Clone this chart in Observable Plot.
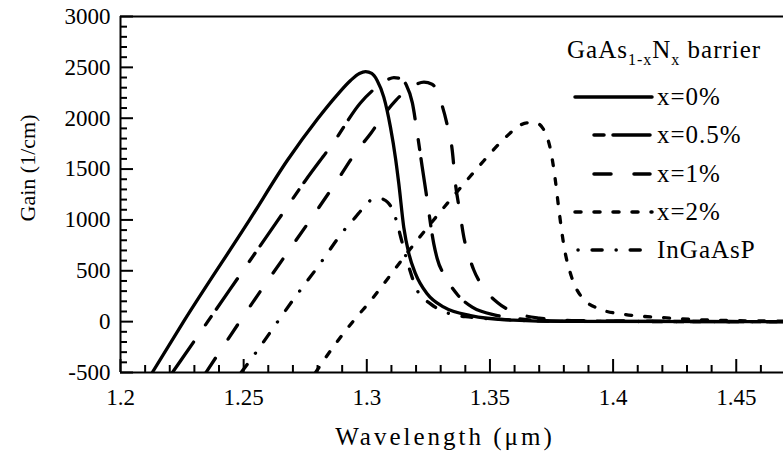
<!DOCTYPE html>
<html><head><meta charset="utf-8">
<script src="https://cdn.jsdelivr.net/npm/d3@7"></script>
<script src="https://cdn.jsdelivr.net/npm/@observablehq/plot@0.6"></script>
<style>
body{margin:0;background:#fff;}
#chart{width:783px;height:457px;}
</style>
</head><body><div id="chart"></div>
<script>
// ---- data (wavelength in µm, gain in 1/cm) ----
const seriesNames = ["x=0%", "x=0.5%", "x=1%", "x=2%", "InGaAsP"];

const wl_x0 = [1.2129,1.2256,1.2524,1.2677,1.2799,1.2880,1.2934,1.2970,1.2995,1.3020,1.3042,1.3069,1.3096,1.3117,1.3130,1.3150,1.3171,1.3198,1.3245,1.3313,1.3421,1.3596,1.38,1.47];
const g_x0  = [-500,0,1000,1584,1990,2230,2371,2440,2459,2440,2371,2207,1912,1600,1355,929,667,470,274,142,60,15,3,0];

const wl_x05 = [1.2211,1.2354,1.2640,1.2751,1.2870,1.2974,1.3042,1.3085,1.3110,1.3135,1.3160,1.3185,1.3205,1.3225,1.3240,1.3272,1.3286,1.3320,1.3370,1.3428,1.3530,1.365,1.38,1.47];
const g_x05  = [-500,0,1000,1388,1780,2150,2310,2380,2400,2390,2330,2150,1850,1520,1280,765,618,437,260,142,60,20,5,0];

const wl_x1 = [1.2347,1.2487,1.2880,1.2961,1.3015,1.3062,1.3117,1.3184,1.3232,1.3265,1.3299,1.3325,1.3347,1.3360,1.3377,1.3394,1.3414,1.3434,1.3475,1.3529,1.3597,1.37,1.385,1.47];
const g_x1  = [-500,11,1388,1683,1847,2010,2174,2310,2354,2335,2174,1950,1683,1355,1090,830,650,510,330,191,93,35,10,0];

const wl_x2 = [1.2792,1.2839,1.2947,1.3022,1.3069,1.3177,1.3286,1.3394,1.3476,1.3550,1.3600,1.3650,1.3690,1.3720,1.3745,1.3765,1.3780,1.3800,1.3830,1.3870,1.3950,1.405,1.42,1.44,1.47];
const g_x2  = [-500,-333,11,224,372,716,1043,1355,1584,1780,1890,1955,1950,1880,1700,1400,1100,750,450,250,120,70,40,15,5];

const wl_inp = [1.2490,1.2541,1.2704,1.2805,1.2907,1.2954,1.2990,1.3028,1.3055,1.3076,1.3090,1.3110,1.3125,1.3140,1.3171,1.3205,1.3259,1.3347,1.3421,1.36,1.38,1.47];
const g_inp  = [-500,-333,224,552,896,1027,1130,1208,1210,1191,1160,1070,950,810,535,306,175,70,44,15,3,0];

const xMajor = [1.2,1.25,1.3,1.35,1.4,1.45];
const xMinor = [1.21,1.22,1.23,1.24,1.26,1.27,1.28,1.29,1.31,1.32,1.33,1.34,1.36,1.37,1.38,1.39,1.41,1.42,1.43,1.44,1.46];
const yMajor = [-500,0,500,1000,1500,2000,2500,3000];
const yMinor = [-400,-300,-200,-100,100,200,300,400,600,700,800,900,1100,1200,1300,1400,1600,1700,1800,1900,2100,2200,2300,2400,2600,2700,2800,2900];

// ---- styles ----
const dashes = {"x=0%": null, "x=0.5%": "37,21,10,9", "x=1%": "17,23", "x=2%": "6,13", "InGaAsP": "10,14,0.1,14"};
const seriesData = [[wl_x0,g_x0],[wl_x05,g_x05],[wl_x1,g_x1],[wl_x2,g_x2],[wl_inp,g_inp]];
const rows = seriesNames.map((name,i) => seriesData[i][0].map((w,j) => ({series:name, wl:w, gain:seriesData[i][1][j]})));

const W = 783, H = 457, mL = 120, mR = 0, mT = 16, mB = 85;
const plotW = W - mL - mR, plotH = H - mT - mB;
const font = "Liberation Serif, DejaVu Serif, serif";

const chart = Plot.plot({
  width: W, height: H,
  marginLeft: mL, marginRight: mR, marginTop: mT, marginBottom: mB,
  x: {domain: [1.2, 1.2 + plotW / 2463]},
  y: {domain: [-500, 3000]},
  style: {fontFamily: font, fontSize: "23px", color: "#000", background: "#fff", overflow: "visible"},
  marks: [
    ...rows.map(r => Plot.line(r, {x: "wl", y: "gain", stroke: "#000", strokeWidth: 3.3,
      strokeDasharray: dashes[r[0].series], strokeLinecap: "round", strokeLinejoin: "round",
      curve: "monotone-x", clip: true})),
    Plot.ruleX(xMajor, {stroke: "#000", strokeWidth: 2, insetTop: plotH - 13}),
    Plot.ruleX(xMinor, {stroke: "#000", strokeWidth: 2, insetTop: plotH - 7}),
    Plot.ruleY(yMajor, {stroke: "#000", strokeWidth: 2, insetRight: plotW - 13}),
    Plot.ruleY(yMinor, {stroke: "#000", strokeWidth: 2, insetRight: plotW - 7}),
    Plot.ruleX([1.2], {stroke: "#000", strokeWidth: 2}),
    Plot.ruleY([-500, 3000], {stroke: "#000", strokeWidth: 2}),
    Plot.axisX(xMajor, {tickSize: 0, tickPadding: 16, tickFormat: d => String(d), label: null, fontSize: 23, fontFamily: font}),
    Plot.axisY(yMajor, {tickSize: 0, tickPadding: 10, tickFormat: d => String(d), label: null, fontSize: 23, fontFamily: font})
  ]
});
document.getElementById("chart").appendChild(chart);

// ---- titles and legend ----
const svg = d3.select(chart);
svg.append("text").attr("x", 445).attr("y", 445).attr("text-anchor", "middle")
  .attr("font-family", font).attr("font-size", 25).attr("letter-spacing", 3).attr("fill", "#000")
  .text("Wavelength (μm)");
svg.append("text").attr("transform", "translate(35,168) rotate(-90)").attr("text-anchor", "middle")
  .attr("font-family", font).attr("font-size", 22).attr("fill", "#000")
  .text("Gain (1/cm)");

const lg = svg.append("g").attr("font-family", font).attr("fill", "#000").attr("text-anchor", "start");
const title = lg.append("text").attr("x", 567).attr("y", 58).attr("font-size", 25).attr("letter-spacing", 1);
title.append("tspan").text("GaAs");
title.append("tspan").attr("font-size", 16).attr("dy", 7).text("1-x");
title.append("tspan").attr("dy", -7).text("N");
title.append("tspan").attr("font-size", 16).attr("dy", 7).text("x");
title.append("tspan").attr("dy", -7).text(" barrier");

const legendRows = [
  {name: "x=0%", y: 97, x1: 575, x2: 652, off: 0},
  {name: "x=0.5%", y: 135, x1: 594, x2: 652, off: 58},
  {name: "x=1%", y: 174, x1: 594, x2: 650, off: 0},
  {name: "x=2%", y: 212, x1: 575, x2: 652, off: 0},
  {name: "InGaAsP", y: 250, x1: 578, x2: 642, off: 24}
];
legendRows.forEach(r => {
  lg.append("line").attr("x1", r.x1).attr("x2", r.x2).attr("y1", r.y).attr("y2", r.y)
    .attr("stroke", "#000").attr("stroke-width", 3.5).attr("stroke-linecap", "round")
    .attr("stroke-dasharray", dashes[r.name]).attr("stroke-dashoffset", r.off);
  lg.append("text").attr("x", 657).attr("y", r.y + 8).attr("font-size", 25).attr("letter-spacing", 1).text(r.name);
});
</script></body></html>
